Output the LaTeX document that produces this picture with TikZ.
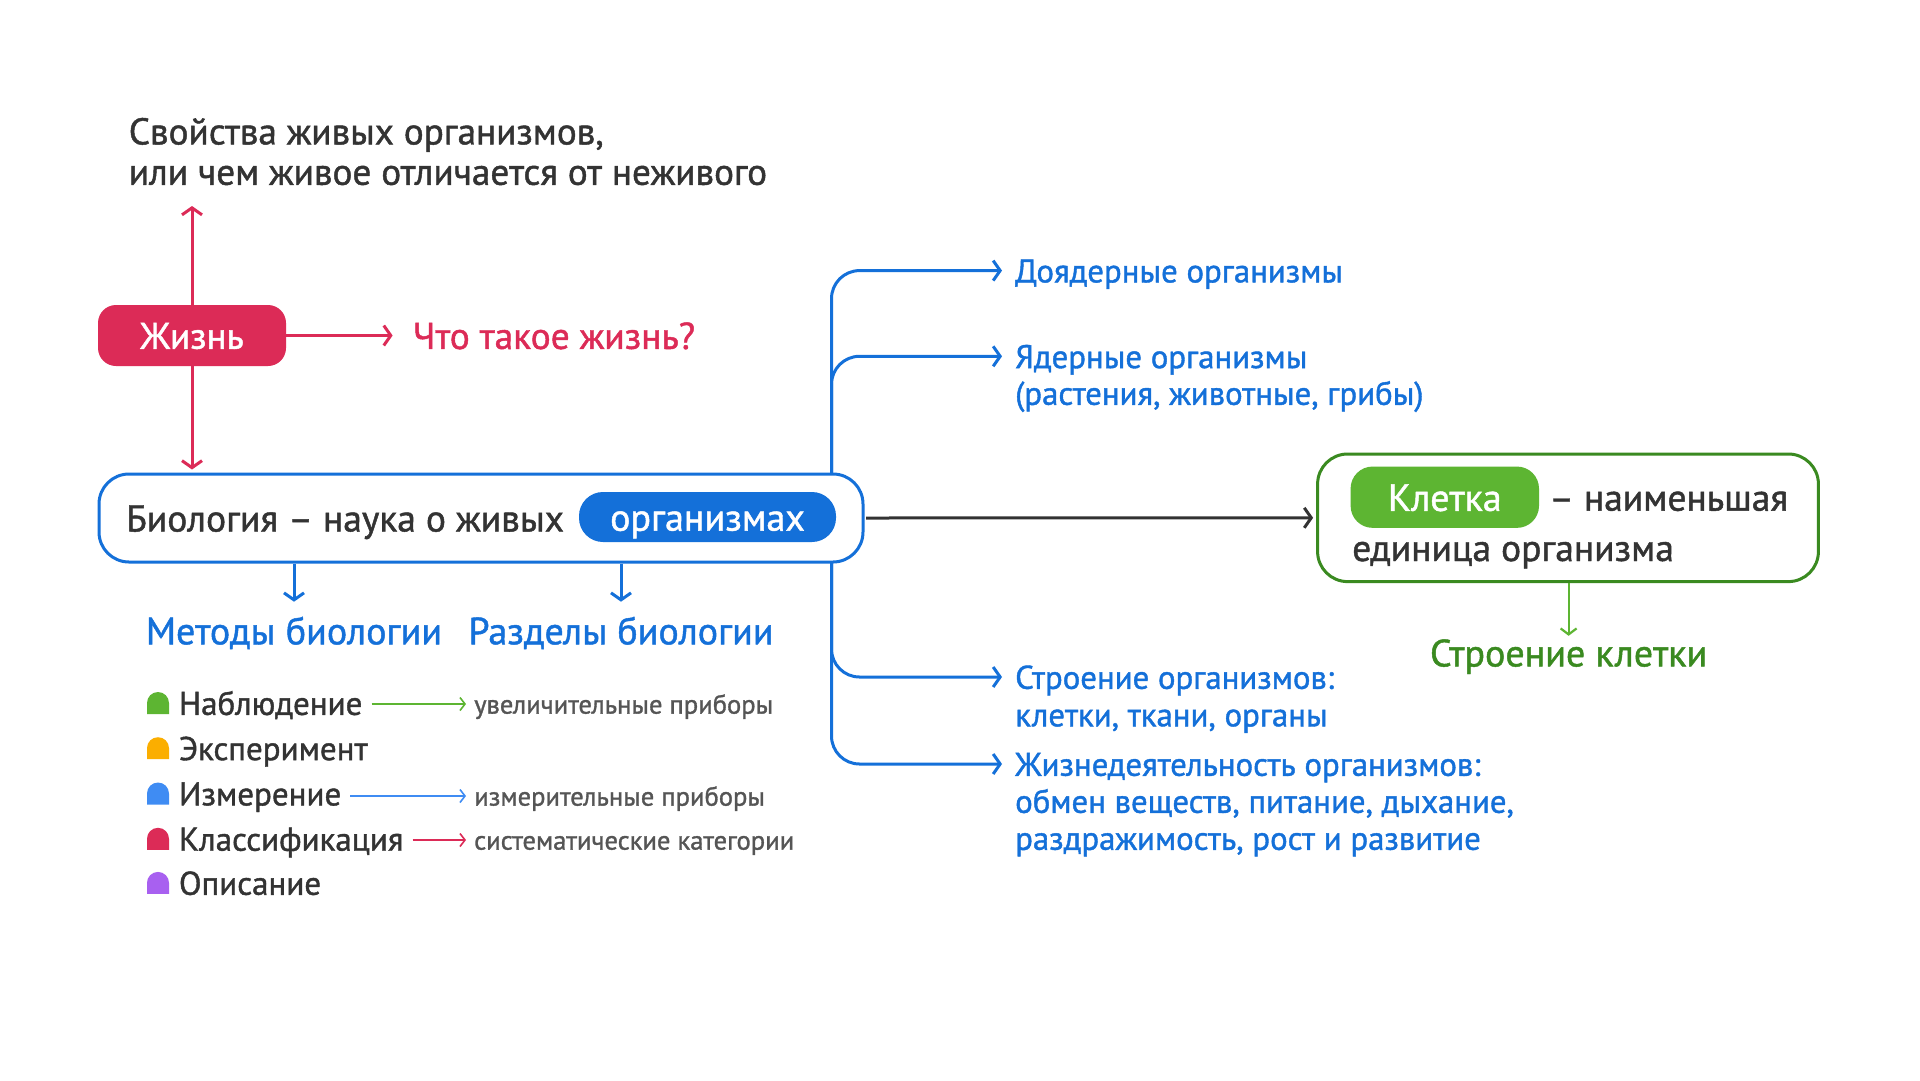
\documentclass[tikz,border=0pt]{standalone}
\usepackage{fontspec}
\setmainfont{PT Sans}[FakeBold=1.2]
\usetikzlibrary{arrows.meta}
\definecolor{cred}{HTML}{DC2B57}
\definecolor{cblue}{HTML}{1470D9}
\definecolor{cdark}{HTML}{333333}
\definecolor{cgreen}{HTML}{5DB532}
\definecolor{cdgreen}{HTML}{3A8A20}
\definecolor{cgray}{HTML}{555555}
\definecolor{corange}{HTML}{FBAE00}
\definecolor{clblue}{HTML}{3F8CF3}
\definecolor{cpurple}{HTML}{A860F0}
\newcommand\fsz[1]{\fontsize{#1pt}{#1pt}\selectfont}
\tikzset{
  T/.style 2 args={inner sep=0pt, font=\fsz{#1}, text height=#2pt, text depth=0pt},
  big/.style={-{Straight Barb[length=7pt,width=20pt,line width=3pt]}, line width=3pt},
  small/.style={-{Straight Barb[length=5pt,width=13pt,line width=1.6pt]}, line width=1.6pt},
}
\begin{document}
\begin{tikzpicture}[x=1pt,y=-1pt]
\useasboundingbox (0,0) rectangle (1920,1080);
\fill[white] (0,0) rectangle (1920,1080);

% title
\node[T={37.2}{26.8}, anchor=west, text=cdark] (t1) at (128.6,131) {Свойства живых организмов,};
\node[T={37.2}{26.8}, anchor=west, text=cdark] (t2) at (128.6,171.4) {или чем живое отличается от неживого};

% Zhizn
\node[T={37}{26.6}, fill=cred, text=white, minimum width=188pt, minimum height=61pt, rounded corners=18pt] (jiz) at (192,335.5) {Жизнь};
\node[T={37.4}{26.9}, anchor=west, text=cred] (what) at (412.6,335.5) {Что такое жизнь?};
\coordinate (upTip) at (192,206);
\draw[big, cred] (jiz.north) -- (upTip);
\draw[big, cred, shorten >=20pt] (jiz.east) -- (what.west);

% trunk (behind bio box)
\coordinate (trA) at (831.5,560);
\coordinate (trB) at (831.5,480);
\node[T={32.8}{23.6}, anchor=west, text=cblue] (b1) at (1015,270.6) {Доядерные организмы};
\node[T={32.8}{23.6}, anchor=west, text=cblue] (b2) at (1015,356.3) {Ядерные организмы};
\node[T={32.8}{23.6}, anchor=west, text=cblue] (b2a) at (1015,393) {(растения, животные, грибы)};
\node[T={32.8}{23.6}, anchor=west, text=cblue] (b3) at (1015,677) {Строение организмов:};
\node[T={32.8}{23.6}, anchor=west, text=cblue] (b3a) at (1015,714.5) {клетки, ткани, органы};
\node[T={32.8}{23.6}, anchor=west, text=cblue] (b4) at (1015,764) {Жизнедеятельность организмов:};
\node[T={32.8}{23.6}, anchor=west, text=cblue] (b4a) at (1015,801) {обмен веществ, питание, дыхание,};
\node[T={32.8}{23.6}, anchor=west, text=cblue] (b4b) at (1015,838) {раздражимость, рост и развитие};
\draw[big, cblue, rounded corners=28pt, shorten >=13pt] (trA) |- (b1.west);
\draw[big, cblue, rounded corners=28pt, shorten >=13pt] (trA) |- (b2.west);
\draw[big, cblue, rounded corners=28pt, shorten >=13pt] (trB) |- (b3.west);
\draw[big, cblue, rounded corners=28pt, shorten >=13pt] (trB) |- (b4.west);

% bio box
\node[draw=cblue, line width=3pt, fill=white, rounded corners=30pt, minimum width=764pt, minimum height=88pt, inner sep=0pt] (bio) at (481,518) {};
\node[T={37.5}{27}, anchor=west, text=cdark] (biot) at (126,518) {Биология – наука о живых};
\node[T={38}{27.4}, fill=cblue, text=white, minimum width=257pt, minimum height=50pt, rounded corners=24pt] (org) at (707.5,517) {организмах};
\draw[big, cred, shorten >=3pt] (jiz.south) -- (jiz.south |- bio.north);

% methods / sections
\node[T={38}{27.4}, text=cblue] (met) at (294,630.6) {Методы биологии};
\node[T={38}{27.4}, text=cblue] (raz) at (621,630.6) {Разделы биологии};
\draw[big, cblue, shorten >=15pt] (bio.south -| met.north) -- (met.north);
\draw[big, cblue, shorten >=15pt] (bio.south -| raz.north) -- (raz.north);

% list
\foreach \yy/\cc in {703/cgreen, 748.2/corange, 793.5/clblue, 838.8/cred, 882.9/cpurple}{
  \fill[\cc] (147,\yy+11) [rounded corners=11pt] -- (147,\yy-11) -- (169,\yy-11) [sharp corners] -- (169,\yy+11) -- cycle;
}
\node[T={33}{23.8}, anchor=west, text=cdark] (m1) at (178.8,703) {Наблюдение};
\node[T={33}{23.8}, anchor=west, text=cdark] (m2) at (178.8,748.2) {Эксперимент};
\node[T={33}{23.8}, anchor=west, text=cdark] (m3) at (178.8,793.5) {Измерение};
\node[T={33}{23.8}, anchor=west, text=cdark] (m4) at (178.8,838.8) {Классификация};
\node[T={33}{23.8}, anchor=west, text=cdark] (m5) at (178.8,882.9) {Описание};
\node[T={26.6}{19.2}, anchor=west, text=cgray] (g1) at (474,704) {увеличительные приборы};
\node[T={26.6}{19.2}, anchor=west, text=cgray] (g3) at (474,796) {измерительные приборы};
\node[T={26.6}{19.2}, anchor=west, text=cgray] (g4) at (474,840) {систематические категории};
\draw[small, cgreen, shorten <=9pt, shorten >=8pt] (m1.east |- g1.west) -- (g1.west);
\draw[small, clblue, shorten <=9pt, shorten >=8pt] (m3.east |- g3.west) -- (g3.west);
\draw[small, cred, shorten <=9pt, shorten >=8pt] (m4.east |- g4.west) -- (g4.west);

% cell box
\node[draw=cdgreen, line width=3pt, fill=white, rounded corners=30pt, minimum width=500.8pt, minimum height=127.6pt, inner sep=0pt] (cell) at (1568,517.8) {};
\node[T={38}{27.4}, fill=cgreen, text=white, minimum width=188.4pt, minimum height=61.3pt, rounded corners=22pt] (kl) at (1444.8,497.2) {Клетка};
\node[T={37.5}{27}, anchor=west, text=cdark] (kl2) at (1549,497.2) {– наименьшая};
\node[T={37.5}{27}, anchor=west, text=cdark] (kl3) at (1352,547.5) {единица организма};
\node[T={38}{27.4}, text=cdgreen] (str) at (1568.6,652.7) {Строение клетки};
\draw[-{Straight Barb[length=6pt,width=16pt,line width=2.2pt]}, line width=2.2pt, cgreen, shorten >=3pt] (cell.south -| str.north) -- (str.north);
\draw[-{Straight Barb[length=7pt,width=20pt,line width=3pt]}, line width=3pt, cdark, shorten <=1.5pt, shorten >=3pt] (bio.east) -- (cell.west);
\end{tikzpicture}
\end{document}
